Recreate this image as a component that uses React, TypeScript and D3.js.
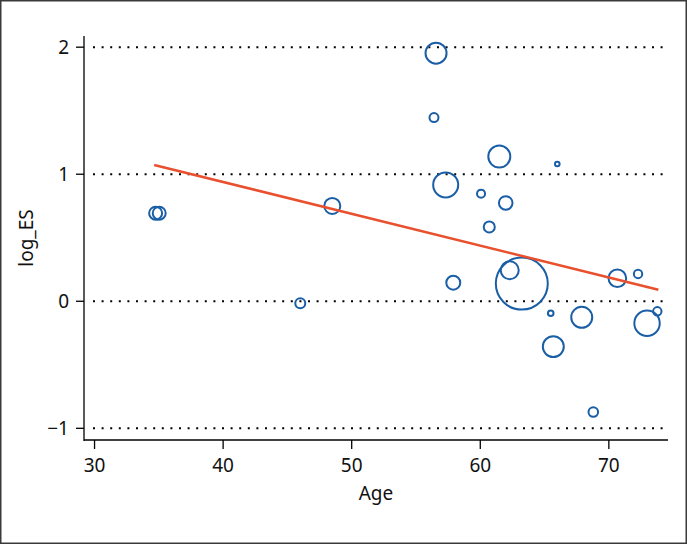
import React from "react";
import * as d3 from "d3";

// Study-level data (meta-regression bubble plot)
const ages = [34.75, 35.03, 46.0, 48.49, 56.56, 56.4, 57.31, 57.9, 60.06, 60.7, 61.48, 61.98, 62.29, 63.23, 65.99, 65.48, 67.89, 65.68, 70.66, 72.27, 73.77, 72.97, 68.79];
const logES = [0.693, 0.693, -0.016, 0.75, 1.953, 1.446, 0.916, 0.146, 0.847, 0.585, 1.139, 0.774, 0.244, 0.139, 1.081, -0.094, -0.126, -0.357, 0.181, 0.215, -0.079, -0.173, -0.872];
const weights = [6.25, 6.25, 3.7, 9.5, 16.3, 3.0, 23.1, 7.2, 2.4, 4.5, 17.9, 6.8, 12.0, 100, 0.78, 1.16, 16.3, 16.3, 11.5, 2.6, 2.6, 23.9, 3.4];

// Fitted meta-regression line
const fitIntercept = 1.941;
const fitSlope = -0.02505;
const fitRange = [34.64, 73.85];

const xTicks = [30, 40, 50, 60, 70];
const yTicks = [-1, 0, 1, 2];
const xLabel = "Age";
const yLabel = "log_ES";

const W = 687;
const H = 544;
const left = 84;
const right = 668;
const top = 36;
const bottom = 440;

export default function App() {
  const x = d3.scaleLinear().domain([29.18, 74.6]).range([left, right]);
  const y = d3.scaleLinear().domain([-1.092, 2.088]).range([bottom, top]);
  const r = d3.scaleSqrt().domain([0, d3.max(weights) as number]).range([0, 26]);

  const line = d3
    .line<number>()
    .x((a) => x(a))
    .y((a) => y(fitIntercept + fitSlope * a));

  const font = "'Noto Sans', 'Open Sans', sans-serif";
  const blue = "#1a5ea6";
  const orange = "#e8502e";
  const fs = 19;

  const order = d3.range(ages.length).sort((a, b) => weights[b] - weights[a]);

  return (
    <svg
      width={W}
      height={H}
      style={{ position: "absolute", left: 0, top: 0, background: "#fff" }}
      fontFamily={font}
    >
      <rect x={0} y={0} width={W} height={H} fill="#fff" />
      <rect x={0.75} y={0.75} width={W - 1.5} height={H - 1.5} fill="none" stroke="#3a3a3a" strokeWidth={1.5} />

      {/* gridlines */}
      {yTicks.map((t) => (
        <line
          key={"g" + t}
          x1={left + 9}
          x2={right - 3}
          y1={y(t)}
          y2={y(t)}
          stroke="#000"
          strokeWidth={2}
          strokeDasharray="2 6.6"
        />
      ))}

      {/* axes */}
      <line x1={left} x2={left} y1={top} y2={bottom + 1} stroke="#000" strokeWidth={1.3} />
      <line x1={left} x2={right} y1={bottom} y2={bottom} stroke="#000" strokeWidth={1.3} />
      {yTicks.map((t) => (
        <g key={"y" + t}>
          <line x1={left - 8} x2={left} y1={y(t)} y2={y(t)} stroke="#000" strokeWidth={1.3} />
          <text x={left - 15} y={y(t)} dy="0.36em" textAnchor="end" fontSize={fs} fill="#111">
            {t < 0 ? "\u2212" + Math.abs(t) : t}
          </text>
        </g>
      ))}
      {xTicks.map((t) => (
        <g key={"x" + t}>
          <line x1={x(t)} x2={x(t)} y1={bottom} y2={bottom + 9} stroke="#000" strokeWidth={1.3} />
          <text x={x(t)} y={bottom + 32} textAnchor="middle" fontSize={fs} fill="#111">
            {t}
          </text>
        </g>
      ))}
      <text x={376} y={500} textAnchor="middle" fontSize={fs} fill="#111">
        {xLabel}
      </text>
      <text
        transform={`translate(33,${238}) rotate(-90)`}
        textAnchor="middle"
        fontSize={fs}
        fill="#111"
      >
        {yLabel}
      </text>

      {/* bubbles */}
      {order.map((i) => (
        <circle
          key={"c" + i}
          cx={x(ages[i])}
          cy={y(logES[i])}
          r={r(weights[i])}
          fill="none"
          stroke={blue}
          strokeWidth={2}
        />
      ))}

      {/* fitted line */}
      <path d={line(fitRange) || ""} fill="none" stroke={orange} strokeWidth={2.5} />
    </svg>
  );
}
